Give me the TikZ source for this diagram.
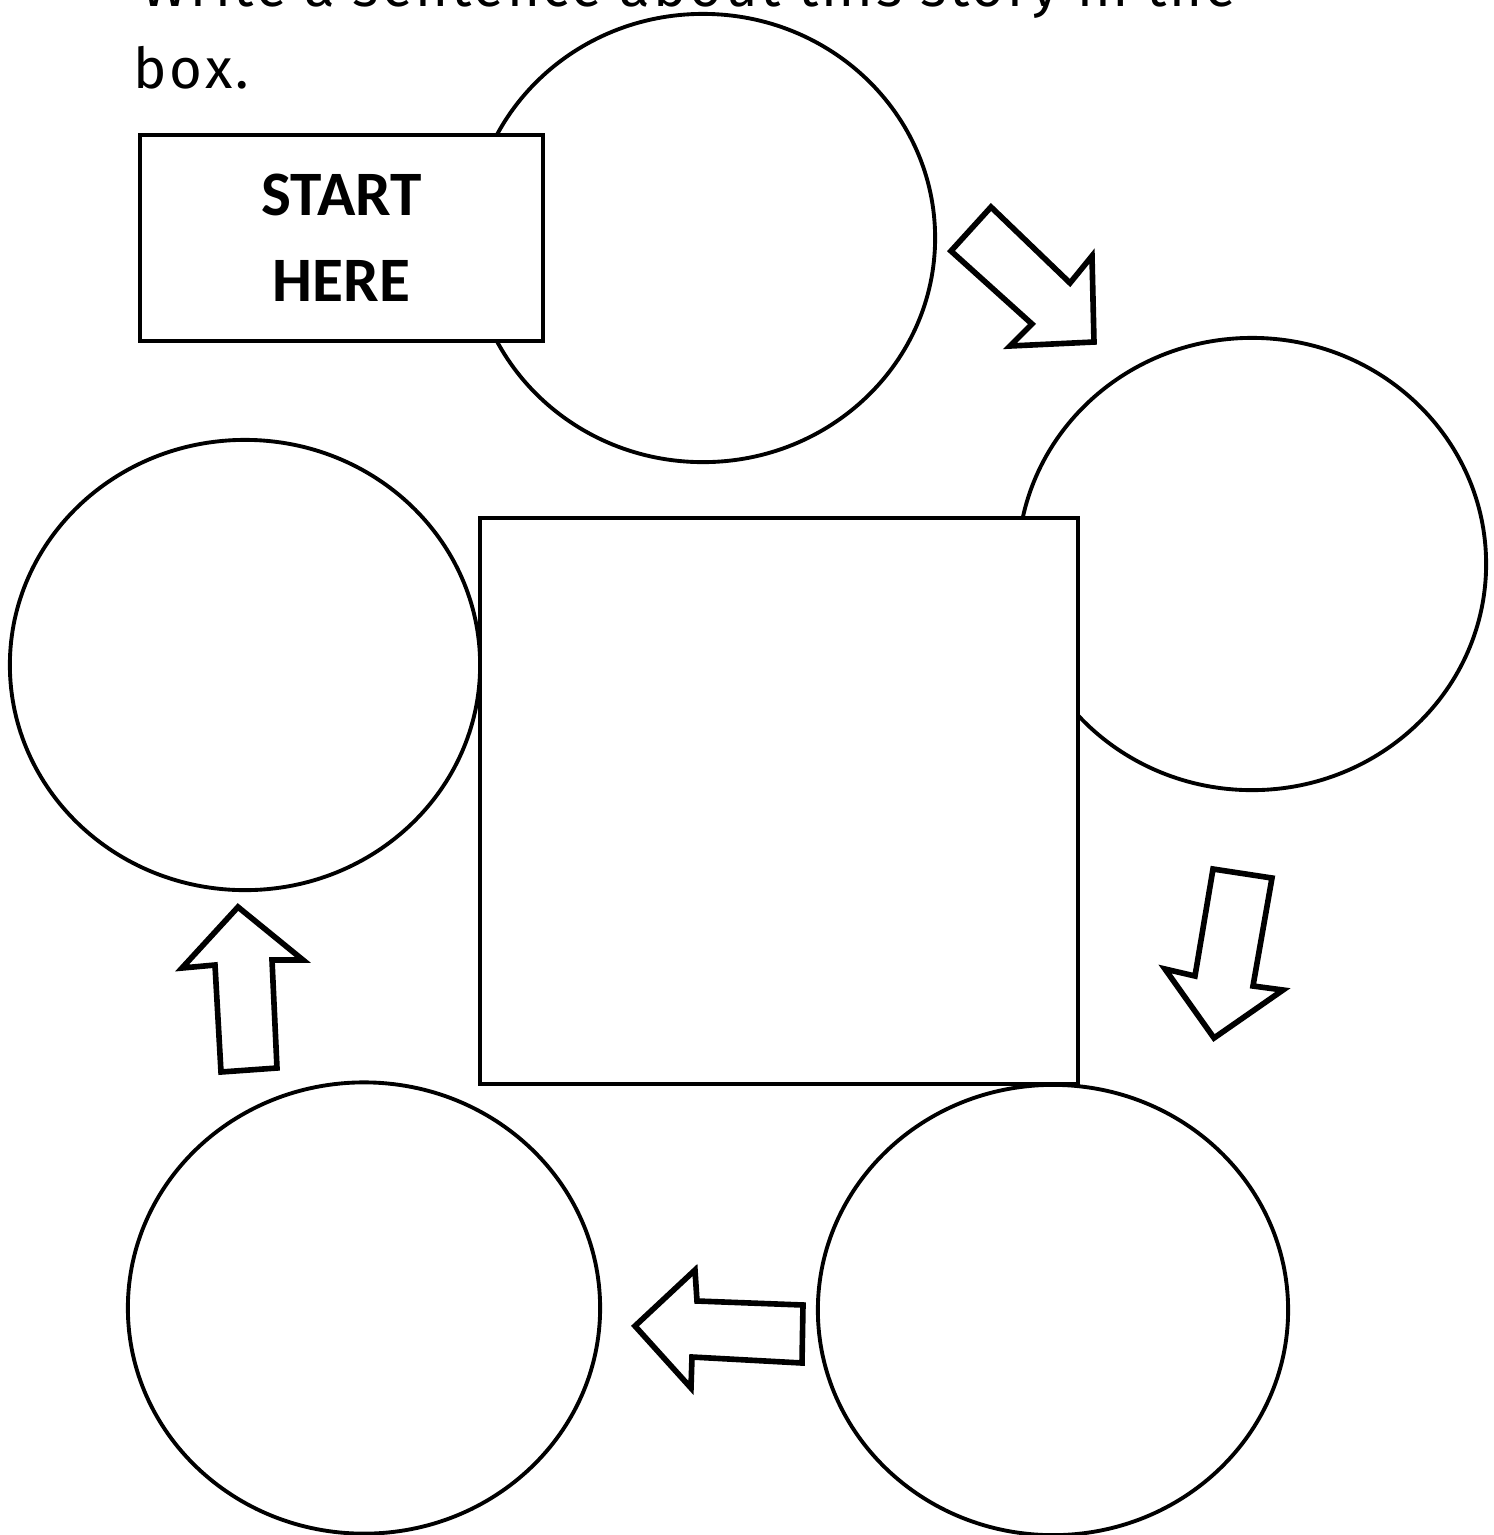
\documentclass[tikz,border=0pt]{standalone}
\usepackage{fontspec}
\setmainfont{Fira Sans}[LetterSpace=5]
\newfontfamily\startfont{Carlito}
\usetikzlibrary{shapes.geometric}

\begin{document}
\begin{tikzpicture}[x=0.01cm, y=-0.01cm,
    bubble/.style={ellipse, draw, line width=1.1pt, inner sep=0pt},
    panel/.style={rectangle, draw, fill=white, line width=1.3pt, inner sep=0pt},
    blockarrow/.style={draw, fill=white, line width=1.6pt, line join=miter},
    prompt/.style={anchor=base west, inner sep=0pt,
                   font=\fontsize{16}{20}\selectfont}
  ]
  \useasboundingbox (0,0) rectangle (1494,1535);

  % instruction text, cut off at the top edge
  \node[prompt] (line1) at (141,6) {Write a sentence about this story in the};
  \node[prompt] (line2) at (133,88) {box.};

  % story bubbles
  \node[bubble, minimum width=4.64cm, minimum height=4.48cm] (first)  at (703,238)  {};
  \node[bubble, minimum width=4.68cm, minimum height=4.52cm] (second) at (1252,564) {};
  \node[bubble, minimum width=4.70cm, minimum height=4.50cm] (third)  at (1053,1310) {};
  \node[bubble, minimum width=4.72cm, minimum height=4.51cm] (fourth) at (364,1308) {};
  \node[bubble, minimum width=4.70cm, minimum height=4.50cm] (fifth)  at (245,665)  {};

  % start box and summary box
  \node[panel, minimum width=4.03cm, minimum height=2.06cm, align=center,
        font=\startfont\bfseries\fontsize{18}{24.5}\selectfont] (start) at (341.5,238)
        {START\\HERE};
  \node[panel, minimum width=5.98cm, minimum height=5.66cm] (summary) at (779,801) {};

  % block arrows between the bubbles
  \draw[blockarrow] (991,207) -- (1070,283) -- (1092,256) -- (1094,342)
                    -- (1010,346) -- (1032,324) -- (951,251) -- cycle;
  \draw[blockarrow] (1213,869) -- (1272,878) -- (1253,986) -- (1283,990)
                    -- (1214,1038) -- (1165,969) -- (1195,976) -- cycle;
  \draw[blockarrow] (635,1326) -- (695,1270) -- (697,1301) -- (803,1305)
                    -- (802,1363) -- (692,1357) -- (691,1388) -- cycle;
  \draw[blockarrow] (238,907) -- (303,960) -- (272,960) -- (277,1068)
                    -- (221,1072) -- (215,965) -- (182,968) -- cycle;
\end{tikzpicture}
\end{document}
